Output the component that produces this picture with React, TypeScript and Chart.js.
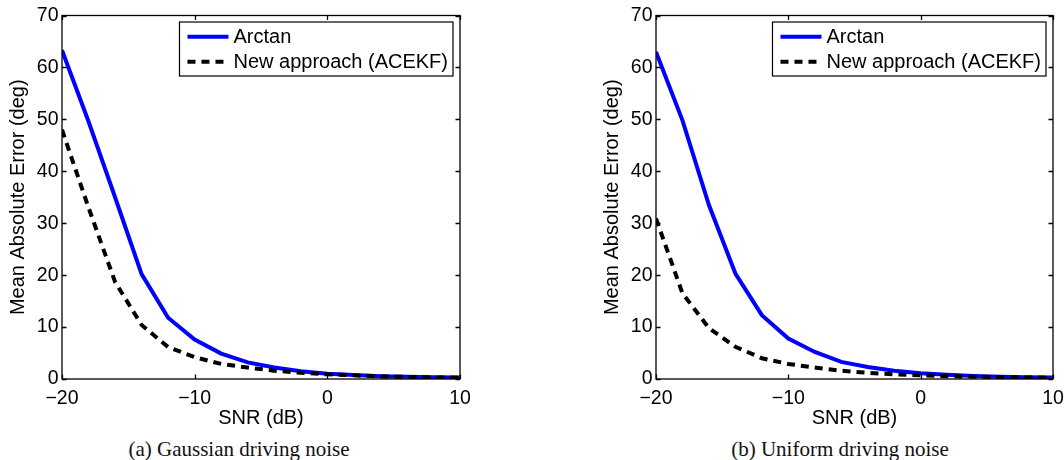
import React, { useEffect, useRef } from "react";
import { Chart, registerables } from "chart.js";

Chart.register(...registerables);

// ---- data ----
const snrDb = [-20, -18, -16, -14, -12, -10, -8, -6, -4, -2, 0, 2, 4, 6, 8, 10];
const gaussArctan = [63.3, 49.6, 35.0, 20.2, 11.8, 7.6, 4.9, 3.2, 2.2, 1.5, 1.0, 0.75, 0.55, 0.45, 0.35, 0.3];
const gaussAcekf = [48.0, 33.0, 18.7, 10.4, 6.15, 4.2, 2.9, 2.2, 1.6, 1.2, 0.9, 0.7, 0.5, 0.4, 0.3, 0.25];
const uniformArctan = [63.0, 49.8, 33.5, 20.3, 12.3, 7.8, 5.2, 3.3, 2.3, 1.6, 1.1, 0.8, 0.6, 0.45, 0.35, 0.3];
const uniformAcekf = [30.9, 16.5, 9.8, 6.2, 4.0, 2.9, 2.2, 1.6, 1.2, 0.9, 0.7, 0.55, 0.45, 0.35, 0.3, 0.25];
const seriesLabels = ["Arctan", "New approach (ACEKF)"];
const xTicks = [-20, -10, 0, 10];
const yTicks = [0, 10, 20, 30, 40, 50, 60, 70];
const xTitle = "SNR (dB)";
const yTitle = "Mean Absolute Error (deg)";
const captions = ["(a) Gaussian driving noise", "(b) Uniform driving noise"];

const SANS = "'Liberation Sans', Arial, Helvetica, sans-serif";

const framePlugin = {
  id: "frameTicks",
  afterDatasetsDraw(chart: any) {
    const { ctx, chartArea: a, scales } = chart;
    const x = scales.x;
    const y = scales.y;
    ctx.save();
    ctx.strokeStyle = "#000";
    ctx.lineWidth = 1.3;
    ctx.beginPath();
    const tl = 4.5;
    xTicks.forEach((v) => {
      const px = Math.round(x.getPixelForValue(v)) + 0.5;
      ctx.moveTo(px, a.bottom);
      ctx.lineTo(px, a.bottom - tl);
      ctx.moveTo(px, a.top);
      ctx.lineTo(px, a.top + tl);
    });
    yTicks.forEach((v) => {
      const py = Math.round(y.getPixelForValue(v)) + 0.5;
      ctx.moveTo(a.left, py);
      ctx.lineTo(a.left + tl, py);
      ctx.moveTo(a.right, py);
      ctx.lineTo(a.right - tl, py);
    });
    ctx.stroke();
    ctx.strokeRect(a.left, a.top, a.right - a.left, a.bottom - a.top);
    ctx.restore();
  },
};

const legendPlugin = {
  id: "boxLegend",
  afterDraw(chart: any) {
    const { ctx, chartArea: a } = chart;
    const font = `20px ${SANS}`;
    ctx.save();
    ctx.font = font;
    const sets = chart.data.datasets.slice().sort((p: any, q: any) => p.legendIndex - q.legendIndex);
    let tw = 0;
    sets.forEach((d: any) => (tw = Math.max(tw, ctx.measureText(d.label).width)));
    const sample = 41;
    const w = 8 + sample + 5 + tw + 5;
    const h = 54;
    const right = a.right - 7;
    const left = right - w;
    const top = a.top + 6.5;
    ctx.fillStyle = "#fff";
    ctx.fillRect(left, top, w, h);
    ctx.strokeStyle = "#000";
    ctx.lineWidth = 1.2;
    ctx.strokeRect(left, top, w, h);
    sets.forEach((d: any, i: number) => {
      const cy = top + 14.7 + i * 25;
      ctx.beginPath();
      ctx.setLineDash(d.borderDash || []);
      ctx.strokeStyle = d.borderColor;
      ctx.lineWidth = d.borderWidth;
      ctx.moveTo(left + 8, cy);
      ctx.lineTo(left + 8 + sample, cy);
      ctx.stroke();
      ctx.setLineDash([]);
      ctx.fillStyle = "#000";
      ctx.textBaseline = "middle";
      ctx.textAlign = "left";
      ctx.fillText(d.label, left + 8 + sample + 5, cy + 1);
    });
    ctx.restore();
  },
};

function fmt(v: number) {
  return v < 0 ? "\u2212" + Math.abs(v) : String(v);
}

function Plot({ arctan, acekf, left, width }: { arctan: number[]; acekf: number[]; left: number; width: number }) {
  const ref = useRef<HTMLCanvasElement | null>(null);
  useEffect(() => {
    if (!ref.current) return;
    const chart = new Chart(ref.current, {
      type: "line",
      data: {
        datasets: [
          {
            label: seriesLabels[1],
            legendIndex: 1,
            data: snrDb.map((x, i) => ({ x, y: acekf[i] })),
            borderColor: "#000000",
            borderWidth: 4,
            borderDash: [8, 6],
            pointRadius: 0,
            fill: false,
            tension: 0,
            order: 0,
          } as any,
          {
            label: seriesLabels[0],
            legendIndex: 0,
            data: snrDb.map((x, i) => ({ x, y: arctan[i] })),
            borderColor: "#0000ff",
            borderWidth: 4,
            pointRadius: 0,
            fill: false,
            tension: 0,
            order: 1,
          } as any,
        ],
      },
      options: {
        animation: false,
        responsive: false,
        maintainAspectRatio: false,
        events: [],
        layout: { padding: { top: 15.5, right: width - 459 - (left === 0 ? 1 : 0), left: 0, bottom: 0 }, autoPadding: false } as any,
        plugins: { legend: { display: false }, tooltip: { enabled: false } },
        scales: {
          x: {
            type: "linear",
            min: -20,
            max: 10,
            afterFit: (s: any) => {
              s.height = 51;
              s.paddingLeft = 0;
              s.paddingRight = 0;
            },
            afterBuildTicks: (s: any) => {
              s.ticks = xTicks.map((v) => ({ value: v }));
            },
            grid: { display: false, drawTicks: false },
            border: { display: false },
            ticks: {
              padding: 7.5,
              color: "#000",
              font: { family: SANS, size: 19.5 },
              maxRotation: 0,
              callback: (v: any) => fmt(Number(v)),
            },
            title: {
              display: true,
              text: xTitle,
              color: "#000",
              font: { family: SANS, size: 20 },
              padding: { top: 0, bottom: 0 },
            },
          },
          y: {
            type: "linear",
            min: 0,
            max: 70,
            afterFit: (s: any) => {
              s.width = 62;
              s.paddingTop = 0;
              s.paddingBottom = 0;
            },
            afterBuildTicks: (s: any) => {
              s.ticks = yTicks.map((v) => ({ value: v }));
            },
            grid: { display: false, drawTicks: false },
            border: { display: false },
            ticks: {
              padding: 3.5,
              color: "#000",
              font: { family: SANS, size: 19.5 },
              callback: (v: any) => fmt(Number(v)),
            },
            title: {
              display: true,
              text: yTitle,
              color: "#000",
              font: { family: SANS, size: 20 },
              padding: { top: 6.3, bottom: 0 },
            },
          },
        },
      },
      plugins: [framePlugin, legendPlugin],
    });
    return () => chart.destroy();
  }, [arctan, acekf, left, width]);
  return (
    <canvas
      ref={ref}
      width={width}
      height={430}
      style={{ position: "absolute", left, top: 0, width, height: 430 }}
    />
  );
}

export default function App() {
  return (
    <div style={{ position: "fixed", left: 0, top: 0, width: 1064, height: 460, background: "#fff", overflow: "hidden" }}>
      <Plot arctan={gaussArctan} acekf={gaussAcekf} left={0} width={480} />
      <Plot arctan={uniformArctan} acekf={uniformAcekf} left={594} width={470} />
      {[239, 840].map((cx, i) => (
        <div
          key={i}
          style={{
            position: "absolute",
            left: cx - 200,
            width: 400,
            top: 438.5,
            textAlign: "center",
            fontFamily: "'Liberation Serif', 'Times New Roman', serif",
            fontSize: 21,
            lineHeight: "21px",
            color: "#111",
            whiteSpace: "nowrap",
          }}
        >
          {captions[i]}
        </div>
      ))}
    </div>
  );
}
